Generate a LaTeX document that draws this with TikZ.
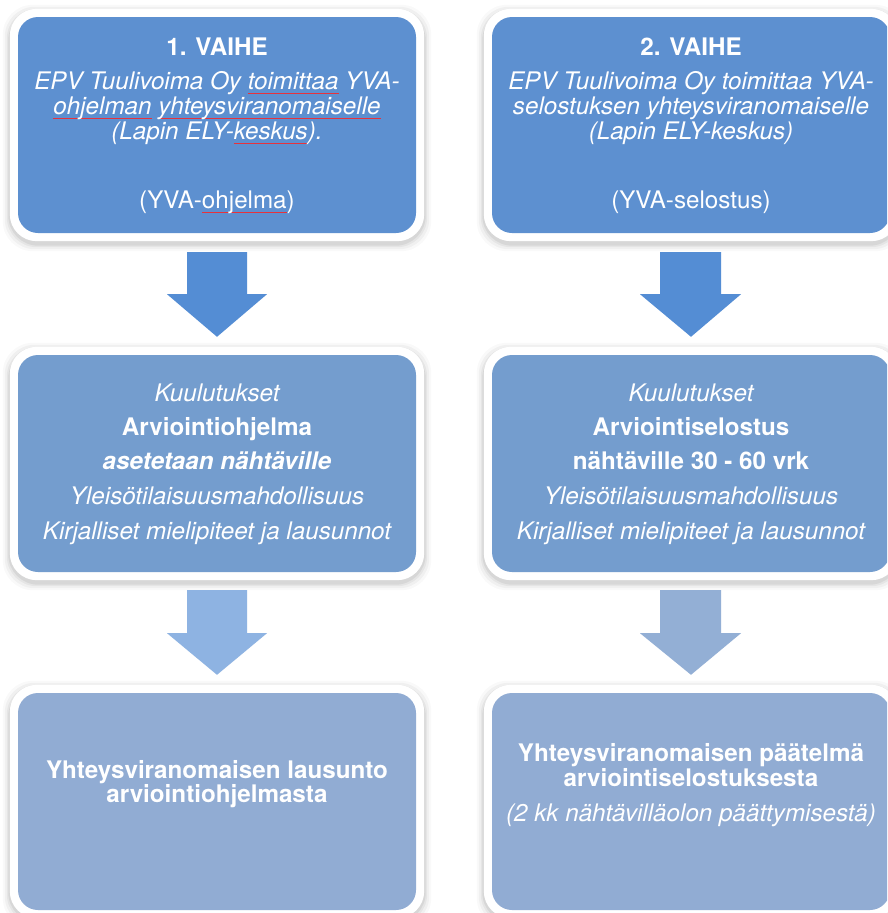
\documentclass[tikz,border=0pt]{standalone}
\usepackage{fontspec}
\setmainfont{TeX Gyre Heros}
\usetikzlibrary{calc}
\pgfdeclarelayer{background}
\pgfsetlayers{background,main}
\definecolor{cTop}{RGB}{93,144,208}
\definecolor{cMid}{RGB}{116,157,206}
\definecolor{cBot}{RGB}{145,172,211}
\definecolor{cArrA}{RGB}{84,141,212}
\definecolor{cArrL}{RGB}{142,179,226}
\definecolor{cArrR}{RGB}{147,175,213}
\definecolor{cSpell}{RGB}{230,50,60}
\newcommand\spl[1]{\leavevmode\setbox0\hbox{#1}\rlap{\color{cSpell}\rule[-4pt]{\wd0}{1.1pt}}\box0{}}
\newcommand\cardframe[1]{%
  \foreach \s/\o in {7/0.025,5/0.035,3/0.045,1.5/0.06}{%
    \fill[black,opacity=\o,rounded corners=30pt]
      ($(#1.north west)+(-8-\s,-8-\s+3)$) rectangle ($(#1.south east)+(8+\s,8+\s+3)$);}
  \fill[white,rounded corners=27pt]
    ($(#1.north west)+(-8,-8)$) rectangle ($(#1.south east)+(8,8)$);}
\begin{document}
\begin{tikzpicture}[x=1pt,y=-1pt,
  card/.style={fill=#1,rounded corners=20pt,minimum width=398pt,minimum height=217pt,inner sep=0pt},
  rm/.style={text=white,anchor=base,inner sep=0pt,font=\fontsize{24.2}{25}\selectfont},
  it/.style={text=white,anchor=base,inner sep=0pt,font=\fontsize{24.2}{25}\selectfont\itshape},
  bf/.style={text=white,anchor=base,inner sep=0pt,font=\fontsize{24.2}{25}\selectfont\bfseries},
  bi/.style={text=white,anchor=base,inner sep=0pt,font=\fontsize{24.2}{25}\selectfont\bfseries\itshape}]
\useasboundingbox (0,0) rectangle (887,913);
\clip (0,0) rectangle (887,913);

% cards
\node[card=cTop,minimum height=216pt] (A) at (217,125) {};
\node[card=cTop,minimum height=216pt] (B) at (691,125) {};
\node[card=cMid] (C) at (217,463.5) {};
\node[card=cMid] (D) at (691,463.5) {};
\node[card=cBot] (E) at (217,801.5) {};
\node[card=cBot] (F) at (691,801.5) {};

\begin{pgfonlayer}{background}
\fill[white] (0,0) rectangle (887,913);
\cardframe{A}\cardframe{B}\cardframe{C}\cardframe{D}\cardframe{E}\cardframe{F}
\end{pgfonlayer}

% texts box A
\node[bf] (A1) at ($(A.north)+(0,39)$) {1. VAIHE};
\node[it] (A2) at ($(A.north)+(0,73)$) {EPV Tuulivoima Oy \spl{toimittaa} YVA-};
\node[it] (A3) at ($(A.north)+(0,98)$) {\spl{ohjelman} \spl{yhteysviranomaiselle}};
\node[it] (A4) at ($(A.north)+(0,123)$) {(Lapin ELY-\spl{keskus}).};
\node[rm] (A5) at ($(A.north)+(0,192)$) {(YVA-\spl{ohjelma})};
% texts box B
\node[bf] (B1) at ($(B.north)+(0,39)$) {2. VAIHE};
\node[it] (B2) at ($(B.north)+(0,73)$) {EPV Tuulivoima Oy toimittaa YVA-};
\node[it] (B3) at ($(B.north)+(0,98)$) {selostuksen yhteysviranomaiselle};
\node[it] (B4) at ($(B.north)+(0,123)$) {(Lapin ELY-keskus)};
\node[rm] (B5) at ($(B.north)+(0,192)$) {(YVA-selostus)};
% texts box C
\node[it] (C1) at ($(C.north)+(0,47)$) {Kuulutukset};
\node[bf] (C2) at ($(C.north)+(0,81)$) {Arviointiohjelma};
\node[bi] (C3) at ($(C.north)+(0,115)$) {asetetaan nähtäville};
\node[it] (C4) at ($(C.north)+(0,150)$) {Yleisötilaisuusmahdollisuus};
\node[it] (C5) at ($(C.north)+(0,185)$) {Kirjalliset mielipiteet ja lausunnot};
% texts box D
\node[it] (D1) at ($(D.north)+(0,47)$) {Kuulutukset};
\node[bf] (D2) at ($(D.north)+(0,81)$) {Arviointiselostus};
\node[bf] (D3) at ($(D.north)+(0,115)$) {nähtäville 30 - 60 vrk};
\node[it] (D4) at ($(D.north)+(0,150)$) {Yleisötilaisuusmahdollisuus};
\node[it] (D5) at ($(D.north)+(0,185)$) {Kirjalliset mielipiteet ja lausunnot};
% texts box E
\node[bf] (E1) at ($(E.north)+(0,86)$) {Yhteysviranomaisen lausunto};
\node[bf] (E2) at ($(E.north)+(0,110)$) {arviointiohjelmasta};
% texts box F
\node[bf] (F1) at ($(F.north)+(0,69)$) {Yhteysviranomaisen päätelmä};
\node[bf] (F2) at ($(F.north)+(0,94)$) {arviointiselostuksesta};
\node[it] (F3) at ($(F.north)+(0,129)$) {(2 kk nähtävilläolon päättymisestä)};

% block arrows
\fill[cArrA] ($(A.south)+(-30,19)$) -- ($(A.south)+(30,19)$) -- ($(A.south)+(30,61)$) -- ($(A.south)+(50,61)$)
  -- ($(C.north)+(0,-18)$) -- ($(A.south)+(-50,61)$) -- ($(A.south)+(-30,61)$) -- cycle;
\fill[cArrA] ($(B.south)+(-31,19)$) -- ($(B.south)+(30,19)$) -- ($(B.south)+(30,61)$) -- ($(B.south)+(50,61)$)
  -- ($(D.north)+(0,-18)$) -- ($(B.south)+(-51,61)$) -- ($(B.south)+(-31,61)$) -- cycle;
\fill[cArrL] ($(C.south)+(-30,18)$) -- ($(C.south)+(30,18)$) -- ($(C.south)+(30,61)$) -- ($(C.south)+(50,61)$)
  -- ($(E.north)+(0,-18)$) -- ($(C.south)+(-50,61)$) -- ($(C.south)+(-30,61)$) -- cycle;
\fill[cArrR] ($(D.south)+(-31,18)$) -- ($(D.south)+(30,18)$) -- ($(D.south)+(30,61)$) -- ($(D.south)+(50,61)$)
  -- ($(F.north)+(0,-18)$) -- ($(D.south)+(-51,61)$) -- ($(D.south)+(-31,61)$) -- cycle;
\end{tikzpicture}
\end{document}
